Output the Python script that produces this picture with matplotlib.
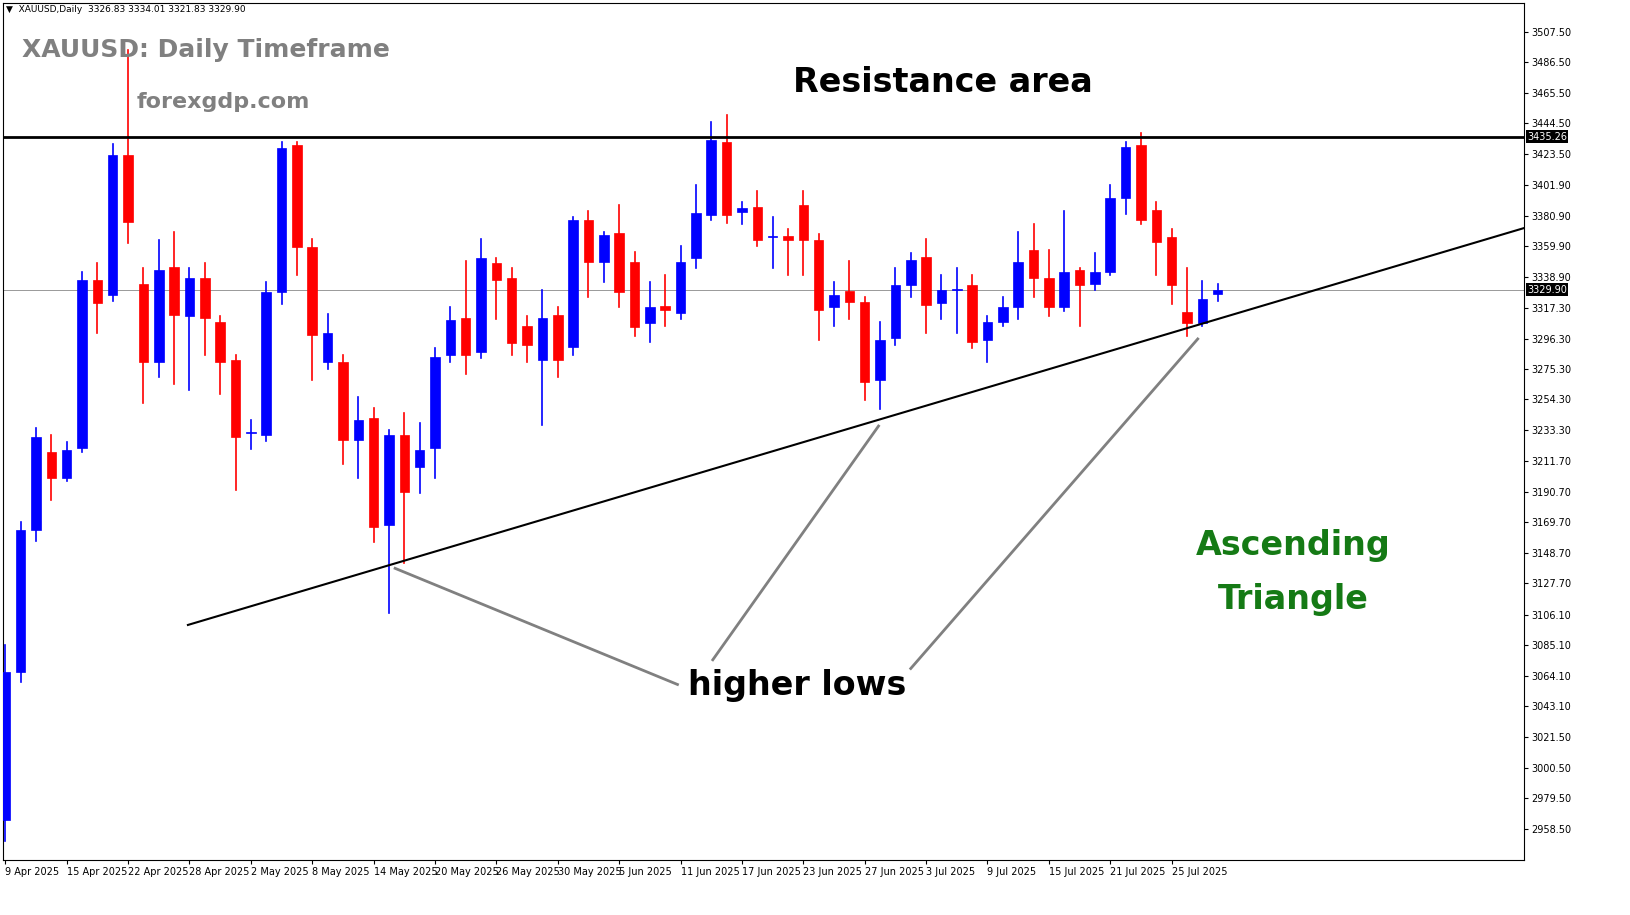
import numpy as np
import matplotlib
matplotlib.use("Agg")
import matplotlib.pyplot as plt

# daily candles
opens = [2964.7, 3066.6, 3164.4, 3218, 3200, 3221, 3336.6, 3326, 3422.7, 3334,
         3280, 3345.6, 3312, 3338, 3307.7, 3281.5, 3231, 3230, 3328.4, 3429.6,
         3359.4, 3280, 3280, 3226.4, 3241.6, 3167.9, 3229.9, 3207.8, 3220.9, 3285,
         3310.5, 3287, 3348.3, 3338, 3305, 3281.5, 3312.5, 3290.5, 3378, 3349,
         3369, 3349, 3307, 3319, 3314, 3352, 3381.4, 3431.7, 3383.5, 3386.9,
         3366.3, 3367, 3388.3, 3364.2, 3318, 3329, 3321.5, 3267.8, 3296.7, 3333.2,
         3352.5, 3321, 3329.8, 3333.2, 3295.3, 3307.7, 3318, 3357.3, 3338, 3318,
         3343.5, 3334, 3342.2, 3393.1, 3429.6, 3384.9, 3366.3, 3314.6, 3307, 3326.8]
closes = [3066.6, 3164.4, 3228.5, 3200, 3219.5, 3336.6, 3320.8, 3422.7, 3376.6, 3280,
          3343.5, 3312.5, 3338, 3310.5, 3280.2, 3228.5, 3231.5, 3328.4, 3427.6, 3359.4,
          3298.8, 3300.2, 3226.4, 3240.2, 3166.5, 3229.9, 3190.6, 3219.5, 3283.6, 3309.1,
          3285, 3351.8, 3336.6, 3293.2, 3291.9, 3310.5, 3281.5, 3378, 3349, 3367.6,
          3328.4, 3304.3, 3318, 3316, 3349, 3382.8, 3433.1, 3381.4, 3386, 3364,
          3367, 3364.2, 3364.2, 3316, 3326.3, 3321.5, 3266.4, 3295.3, 3333.2, 3350.4,
          3319.4, 3329.8, 3330.5, 3293.9, 3307.7, 3318, 3349, 3338, 3318, 3342.2,
          3333.2, 3342.2, 3393.1, 3428.3, 3378, 3362.8, 3333.2, 3307, 3323.5, 3329.9]
highs = [3085, 3170, 3235, 3230, 3225, 3342, 3348, 3430, 3495, 3345,
         3364, 3370, 3345, 3348, 3312, 3285, 3240, 3335, 3432, 3432,
         3365, 3313, 3285, 3256, 3248.5, 3233, 3245, 3238, 3290, 3318,
         3350, 3365, 3352, 3345, 3312, 3330, 3318, 3380, 3384, 3370,
         3388, 3356, 3335, 3340, 3360, 3402, 3445.5, 3450, 3390, 3398,
         3380, 3372, 3398, 3368, 3335, 3350, 3325, 3308, 3345, 3355,
         3365, 3340, 3345, 3340, 3312, 3325, 3370, 3375, 3357, 3384,
         3345, 3355, 3402, 3432, 3438, 3390, 3372, 3345, 3336, 3334]
lows = [2950, 3060, 3157, 3185, 3198, 3218, 3300, 3322, 3362, 3252,
        3270, 3265, 3261, 3285, 3258, 3192, 3220, 3226, 3320, 3340,
        3268, 3275, 3210, 3200, 3156, 3107, 3142, 3190, 3200, 3280,
        3272, 3283, 3310, 3285, 3280, 3236.8, 3270, 3285, 3325, 3335,
        3318, 3298, 3294, 3305, 3310, 3345, 3378, 3376, 3375, 3360,
        3345, 3340, 3340, 3295, 3305, 3310, 3254, 3248, 3292, 3325,
        3300, 3310, 3300, 3290, 3280, 3305, 3310, 3325, 3312, 3315,
        3305, 3330, 3340, 3382, 3375, 3340, 3320, 3298, 3305, 3321.8]

date_labels = ["9 Apr 2025", "15 Apr 2025", "22 Apr 2025", "28 Apr 2025", "2 May 2025",
               "8 May 2025", "14 May 2025", "20 May 2025", "26 May 2025", "30 May 2025",
               "5 Jun 2025", "11 Jun 2025", "17 Jun 2025", "23 Jun 2025", "27 Jun 2025",
               "3 Jul 2025", "9 Jul 2025", "15 Jul 2025", "21 Jul 2025", "25 Jul 2025"]
price_ticks = [2958.5, 2979.5, 3000.5, 3021.5, 3043.1, 3064.1, 3085.1, 3106.1, 3127.7,
               3148.7, 3169.7, 3190.7, 3211.7, 3233.3, 3254.3, 3275.3, 3296.3, 3317.3,
               3338.9, 3359.9, 3380.9, 3401.9, 3423.5, 3444.5, 3465.5, 3486.5, 3507.5]

resistance = 3435.26
last_price = 3329.90
trend_x = [11.9, 99.0]
trend_y = [3099.0, 3372.5]
# pointer lines (bar index, price) for the "higher lows" callout
pointers = [([25.4, 43.8], [3138.0, 3058.0]),
            ([56.9, 46.1], [3236.0, 3075.0]),
            ([77.7, 59.0], [3296.0, 3069.0])]

BLUE = "#0000FF"
RED = "#FF0000"

fig = plt.figure(figsize=(16.31, 9.15), dpi=100)
W, H = 1631, 915
ax = fig.add_axes([3 / W, (H - 860) / H, 1521 / W, 857 / H])

for i, (o, h, l, c) in enumerate(zip(opens, highs, lows, closes)):
    col = BLUE if c >= o else RED
    ax.plot([i, i], [l, h], color=col, linewidth=1.2, zorder=3)
    bot, top = min(o, c), max(o, c)
    ax.bar(i, max(top - bot, 0.6), bottom=bot, width=0.62, color=col,
           edgecolor=col, linewidth=0.5, zorder=4)

ax.axhline(resistance, color="black", linewidth=2, zorder=5)
ax.axhline(last_price, color="#999999", linewidth=0.7, zorder=2)
ax.plot(trend_x, trend_y, color="black", linewidth=1.5, zorder=5)
for px, py in pointers:
    ax.plot(px, py, color="#808080", linewidth=2, zorder=5)

ax.set_xlim(-0.15, 98.96)
ax.set_ylim(2937.1, 3527.4)
ax.yaxis.tick_right()
ax.set_yticks(price_ticks)
ax.set_yticklabels([f"{v:.2f}" for v in price_ticks], fontsize=7)
ax.set_xticks(np.arange(len(date_labels)) * 4)
ax.set_xticklabels(date_labels, fontsize=7, ha="left")
ax.tick_params(length=3, pad=2)
for s in ax.spines.values():
    s.set_linewidth(0.8)

ax.text(1.002, resistance, f"{resistance:.2f}", transform=ax.get_yaxis_transform(),
        fontsize=7, va="center", ha="left", color="white",
        bbox=dict(facecolor="black", edgecolor="none", pad=1), clip_on=False)
ax.text(1.002, last_price, f"{last_price:.2f}", transform=ax.get_yaxis_transform(),
        fontsize=7, va="center", ha="left", color="white",
        bbox=dict(facecolor="black", edgecolor="none", pad=1), clip_on=False)


def ftxt(x, y, s, **kw):
    fig.text(x / W, 1 - y / H, s, **kw)


ftxt(6, 10, "▼  XAUUSD,Daily  3326.83 3334.01 3321.83 3329.90", fontsize=6.5, va="center")
ftxt(22, 50, "XAUUSD: Daily Timeframe", fontsize=18, fontweight="bold", color="#808080", va="center")
ftxt(137, 102, "forexgdp.com", fontsize=16, fontweight="bold", color="#808080", va="center")
ftxt(943, 83, "Resistance area", fontsize=24, fontweight="bold", va="center", ha="center")
ftxt(797, 685, "higher lows", fontsize=24, fontweight="bold", va="center", ha="center")
ftxt(1293, 545, "Ascending", fontsize=24, fontweight="bold", color="#157A15", va="center", ha="center")
ftxt(1293, 600, "Triangle", fontsize=24, fontweight="bold", color="#157A15", va="center", ha="center")

fig.savefig("out.png", dpi=100, facecolor="white")
